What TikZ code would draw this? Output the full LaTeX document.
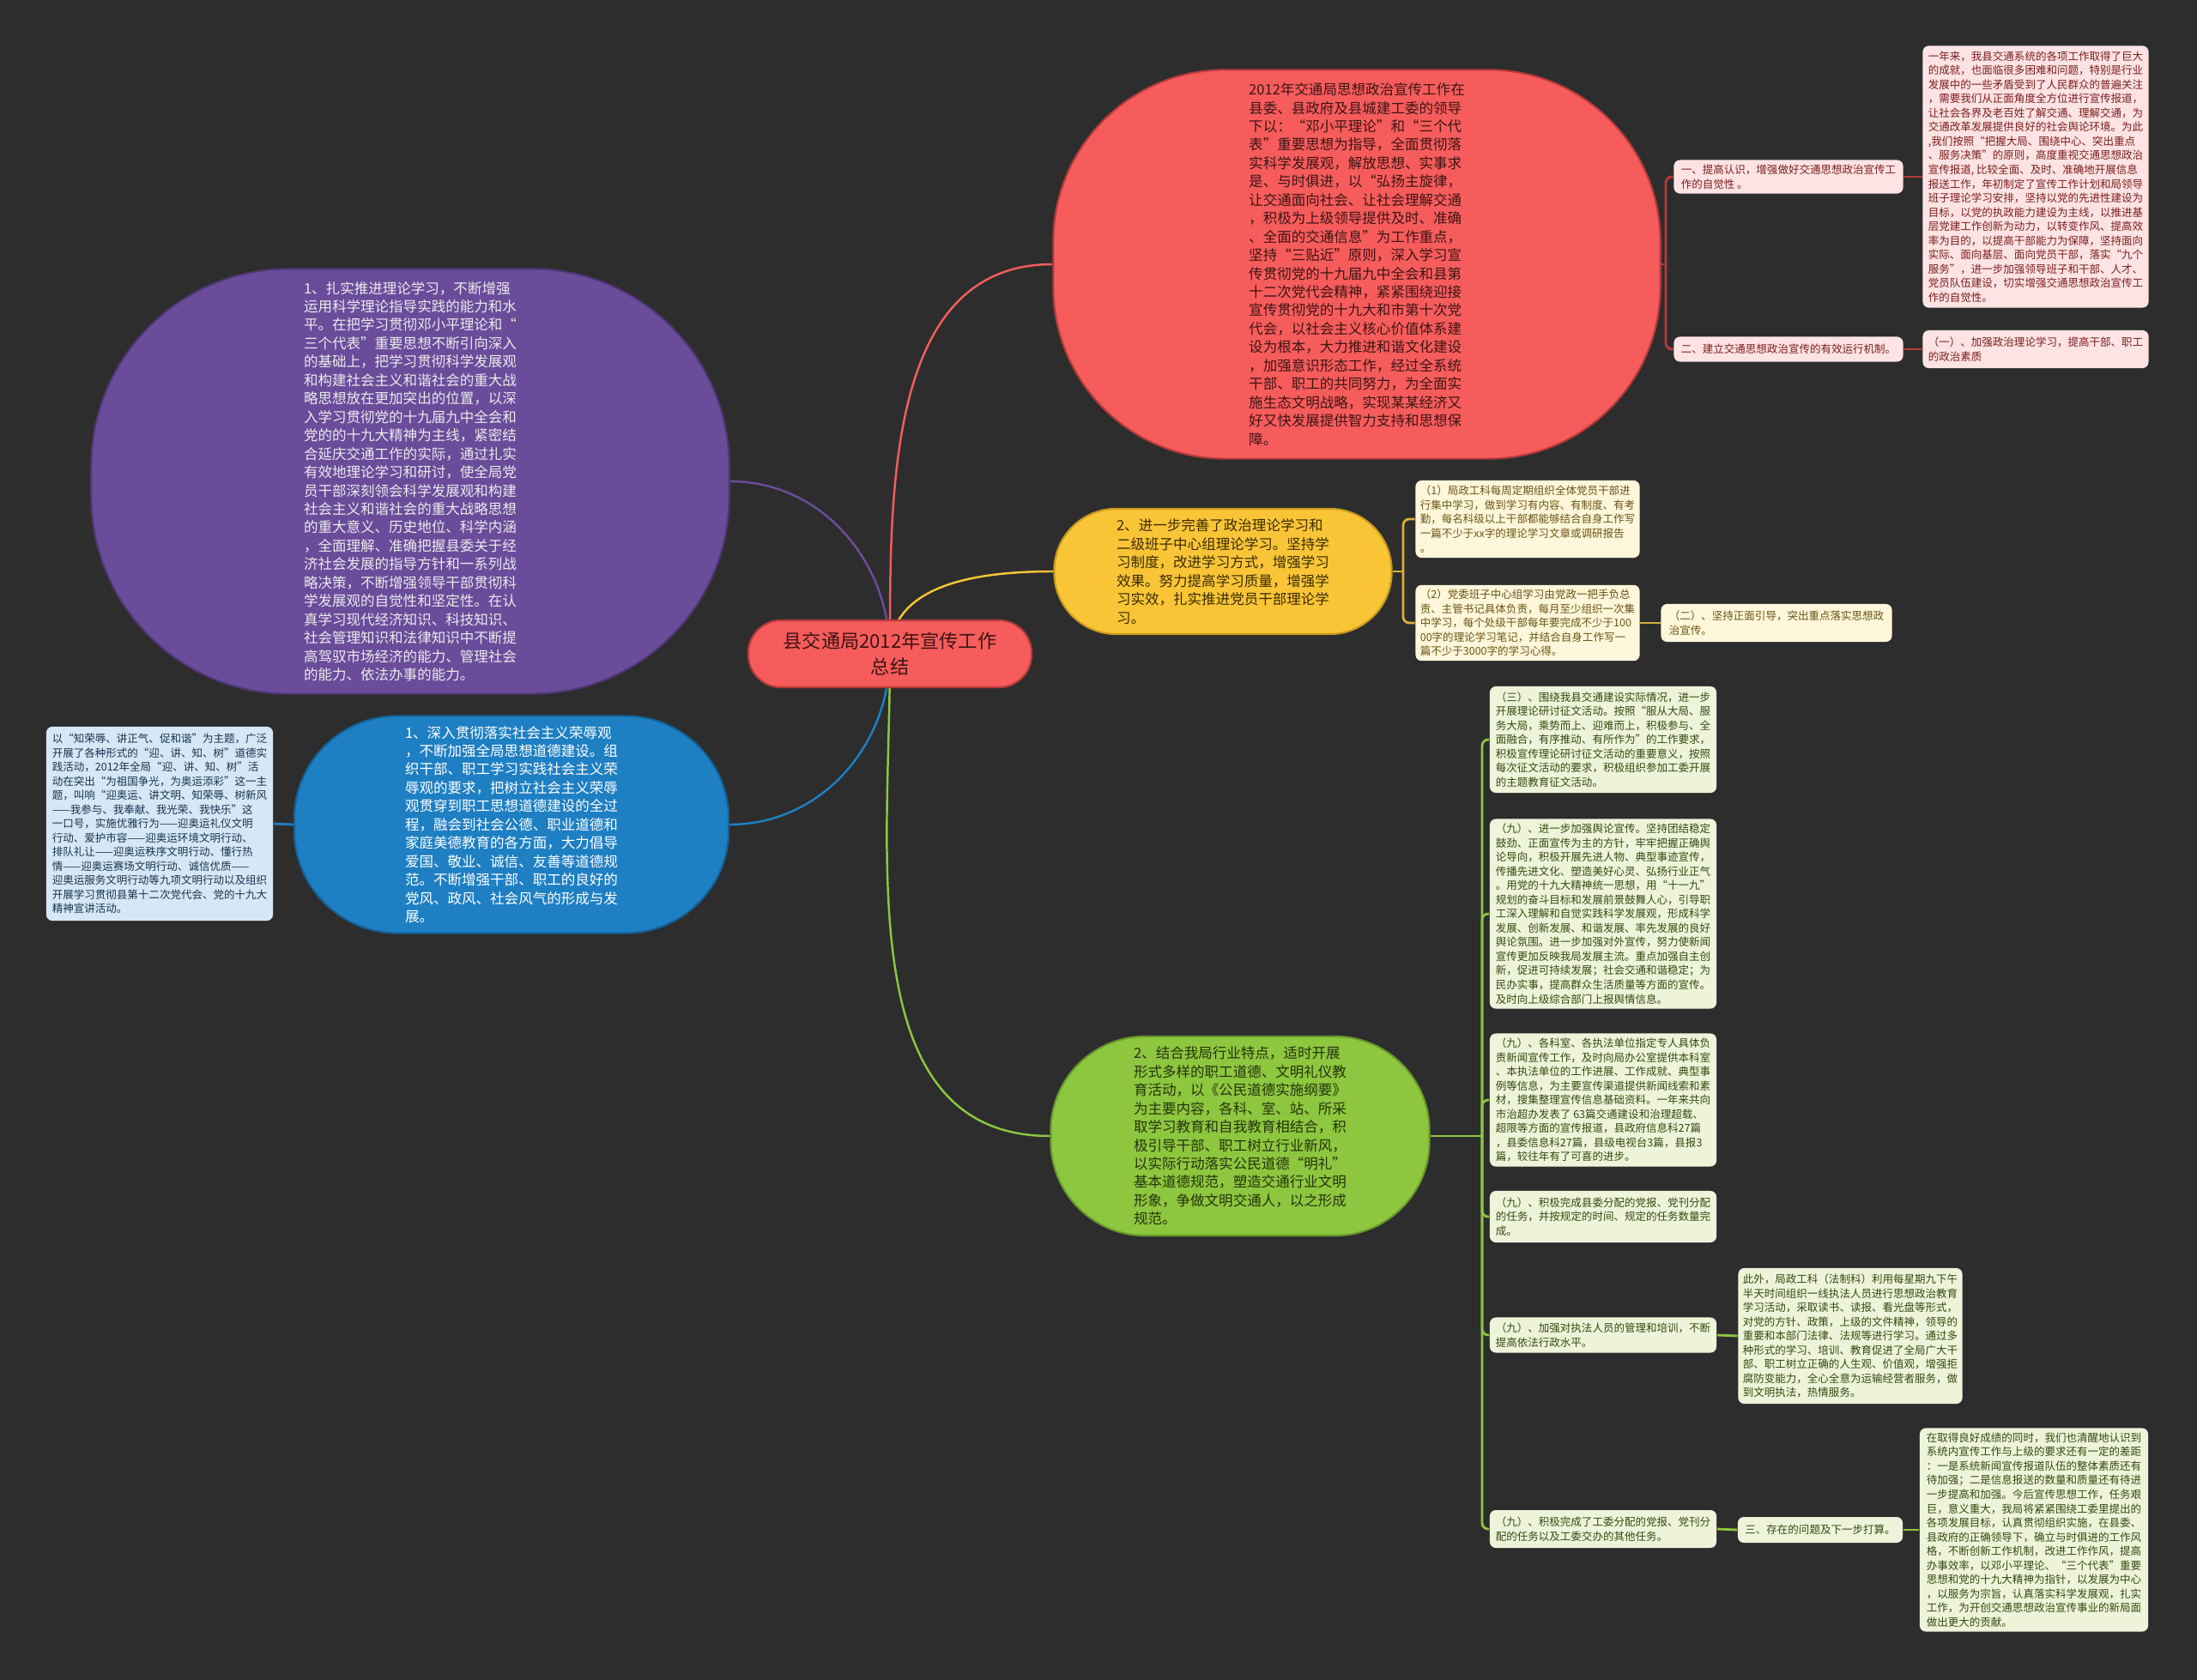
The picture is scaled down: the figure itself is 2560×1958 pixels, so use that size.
\documentclass[tikz,border=0pt]{standalone}
\usepackage{fontspec}
\setmainfont{Noto Sans CJK SC}
\usetikzlibrary{backgrounds}
\definecolor{bgdark}{HTML}{2D2D2D}
\definecolor{cRed}{HTML}{F65C5C}
\definecolor{cRedB}{HTML}{B53A3A}
\definecolor{cPurple}{HTML}{6B4C9B}
\definecolor{cPurpleB}{HTML}{4E3775}
\definecolor{cBlue}{HTML}{1E7FC3}
\definecolor{cBlueB}{HTML}{155F94}
\definecolor{cYellow}{HTML}{F9C536}
\definecolor{cYellowB}{HTML}{C99A1E}
\definecolor{cGreen}{HTML}{8DC63F}
\definecolor{cGreenB}{HTML}{6A9A2A}
\definecolor{fPink}{HTML}{FDE3E3}
\definecolor{fCream}{HTML}{FFF7DB}
\definecolor{fLime}{HTML}{EEF4DA}
\definecolor{fSky}{HTML}{D6E8F5}
\definecolor{lRed}{HTML}{B33A3A}
\definecolor{lGold}{HTML}{D9AE3A}
\definecolor{tDark}{HTML}{3D1414}
\definecolor{tRed}{HTML}{7B1E1E}
\definecolor{tGold}{HTML}{6A5314}
\definecolor{tOlive}{HTML}{36470F}
\definecolor{tNavy}{HTML}{17334F}
\definecolor{tBrown}{HTML}{3A2C05}
\definecolor{tMoss}{HTML}{24330B}
\begin{document}
\begin{tikzpicture}[x=0.01cm, y=-0.01cm,
  topic/.style={font=\fontsize{4.7}{6.1}\selectfont, align=left, inner sep=0pt, draw, line width=0.6pt},
  leaf/.style={font=\fontsize{3.56}{4.7}\selectfont, align=left, inner sep=1.5pt, rounded corners=2pt},
  link/.style={line width=0.7pt},
  sublink/.style={line width=0.8pt, rounded corners=2pt}]
\useasboundingbox (0,0) rectangle (2560,1958);
% Centre
\node[draw=cRedB, fill=cRed, text=tDark, line width=0.6pt, rounded corners=0.38cm,
  minimum width=3.3cm, minimum height=0.78cm, align=center,
  font=\fontsize{6.3}{8.3}\selectfont] (root) at (1037,762) {县交通局2012年宣传工作\\总结};
% Red branch
\node[topic, fill=cRed, draw=cRedB, text=tDark, rounded corners=2cm,
  minimum width=7.07cm, minimum height=4.53cm] (intro) at (1581,308) {2012年交通局思想政治宣传工作在\\
县委、县政府及县城建工委的领导\\
下以：“邓小平理论”和“三个代\\
表”重要思想为指导，全面贯彻落\\
实科学发展观，解放思想、实事求\\
是、与时俱进，以“弘扬主旋律，\\
让交通面向社会、让社会理解交通\\
，积极为上级领导提供及时、准确\\
、全面的交通信息”为工作重点，\\
坚持“三贴近”原则，深入学习宣\\
传贯彻党的十九届九中全会和县第\\
十二次党代会精神，紧紧围绕迎接\\
宣传贯彻党的十九大和市第十次党\\
代会，以社会主义核心价值体系建\\
设为根本，大力推进和谐文化建设\\
，加强意识形态工作，经过全系统\\
干部、职工的共同努力，为全面实\\
施生态文明战略，实现某某经济又\\
好又快发展提供智力支持和思想保\\
障。};
\node[leaf, fill=fPink, text=tRed, minimum width=2.67cm, minimum height=0.39cm] (r1) at (2084,206) {一、提高认识，增强做好交通思想政治宣传工\\
作的自觉性 。};
\node[leaf, fill=fPink, text=tRed, minimum width=2.67cm, minimum height=0.29cm] (r2) at (2084,407) {二、建立交通思想政治宣传的有效运行机制。};
\node[leaf, fill=fPink, text=tRed, minimum width=2.63cm, minimum height=3.05cm] (r1a) at (2372,206) {一年来，我县交通系统的各项工作取得了巨大\\
的成就，也面临很多困难和问题，特别是行业\\
发展中的一些矛盾受到了人民群众的普遍关注\\
，需要我们从正面角度全方位进行宣传报道，\\
让社会各界及老百姓了解交通、理解交通，为\\
交通改革发展提供良好的社会舆论环境。为此\\
,我们按照“把握大局、围绕中心、突出重点\\
、服务决策”的原则，高度重视交通思想政治\\
宣传报道, 比较全面、及时、准确地开展信息\\
报送工作，年初制定了宣传工作计划和局领导\\
班子理论学习安排，坚持以党的先进性建设为\\
目标，以党的执政能力建设为主线，以推进基\\
层党建工作创新为动力，以转变作风、提高效\\
率为目的，以提高干部能力为保障，坚持面向\\
实际、面向基层、面向党员干部，落实“九个\\
服务”，进一步加强领导班子和干部、人才、\\
党员队伍建设，切实增强交通思想政治宣传工\\
作的自觉性。};
\node[leaf, fill=fPink, text=tRed, minimum width=2.63cm, minimum height=0.44cm] (r2a) at (2372,407) {（一）、加强政治理论学习，提高干部、职工\\
的政治素质};
% Purple branch
\node[topic, fill=cPurple, draw=cPurpleB, text=white!92!black, rounded corners=2.3cm,
  minimum width=7.43cm, minimum height=4.95cm] (study) at (478,561) {1、扎实推进理论学习，不断增强\\
运用科学理论指导实践的能力和水\\
平。在把学习贯彻邓小平理论和“\\
三个代表”重要思想不断引向深入\\
的基础上，把学习贯彻科学发展观\\
和构建社会主义和谐社会的重大战\\
略思想放在更加突出的位置，以深\\
入学习贯彻党的十九届九中全会和\\
党的的十九大精神为主线，紧密结\\
合延庆交通工作的实际，通过扎实\\
有效地理论学习和研讨，使全局党\\
员干部深刻领会科学发展观和构建\\
社会主义和谐社会的重大战略思想\\
的重大意义、历史地位、科学内涵\\
，全面理解、准确把握县委关于经\\
济社会发展的指导方针和一系列战\\
略决策，不断增强领导干部贯彻科\\
学发展观的自觉性和坚定性。在认\\
真学习现代经济知识、科技知识、\\
社会管理知识和法律知识中不断提\\
高驾驭市场经济的能力、管理社会\\
的能力、依法办事的能力。};
% Yellow branch
\node[topic, fill=cYellow, draw=cYellowB, text=tBrown, rounded corners=0.72cm,
  minimum width=3.93cm, minimum height=1.46cm] (group) at (1425,666) {2、进一步完善了政治理论学习和\\
二级班子中心组理论学习。坚持学\\
习制度，改进学习方式，增强学习\\
效果。努力提高学习质量，增强学\\
习实效，扎实推进党员干部理论学\\
习。};
\node[leaf, fill=fCream, text=tGold, minimum width=2.61cm, minimum height=0.9cm] (y1) at (1780,605) {（1）局政工科每周定期组织全体党员干部进\\
行集中学习，做到学习有内容、有制度、有考\\
勤，每名科级以上干部都能够结合自身工作写\\
一篇不少于xx字的理论学习文章或调研报告\\
。};
\node[leaf, fill=fCream, text=tGold, minimum width=2.61cm, minimum height=0.87cm] (y2) at (1780,726) {（2）党委班子中心组学习由党政一把手负总\\
责、主管书记具体负责，每月至少组织一次集\\
中学习，每个处级干部每年要完成不少于100\\
00字的理论学习笔记，并结合自身工作写一\\
篇不少于3000字的学习心得。};
\node[leaf, fill=fCream, text=tGold, minimum width=2.69cm, minimum height=0.44cm] (y3) at (2070,726) {（二）、坚持正面引导，突出重点落实思想政\\
治宣传。};
% Blue branch
\node[topic, fill=cBlue, draw=cBlueB, text=white, rounded corners=1.2cm,
  minimum width=5.06cm, minimum height=2.53cm] (moral) at (596,961) {1、深入贯彻落实社会主义荣辱观\\
，不断加强全局思想道德建设。组\\
织干部、职工学习实践社会主义荣\\
辱观的要求，把树立社会主义荣辱\\
观贯穿到职工思想道德建设的全过\\
程，融会到社会公德、职业道德和\\
家庭美德教育的各方面，大力倡导\\
爱国、敬业、诚信、友善等道德规\\
范。不断增强干部、职工的良好的\\
党风、政风、社会风气的形成与发\\
展。};
\node[leaf, fill=fSky, text=tNavy, minimum width=2.64cm, minimum height=2.26cm] (rongru) at (186,960) {以“知荣辱、讲正气、促和谐”为主题，广泛\\
开展了各种形式的“迎、讲、知、树”道德实\\
践活动，2012年全局“迎、讲、知、树”活\\
动在突出“为祖国争光，为奥运添彩”这一主\\
题，叫响“迎奥运、讲文明、知荣辱、树新风\\
——我参与、我奉献、我光荣、我快乐”这\\
一口号，实施优雅行为——迎奥运礼仪文明\\
行动、爱护市容——迎奥运环境文明行动、\\
排队礼让——迎奥运秩序文明行动、懂行热\\
情——迎奥运赛场文明行动、诚信优质——\\
迎奥运服务文明行动等九项文明行动以及组织\\
开展学习贯彻县第十二次党代会、党的十九大\\
精神宣讲活动。};
% Green branch
\node[topic, fill=cGreen, draw=cGreenB, text=tMoss, rounded corners=1.1cm,
  minimum width=4.41cm, minimum height=2.32cm] (etiq) at (1445,1324) {2、结合我局行业特点，适时开展\\
形式多样的职工道德、文明礼仪教\\
育活动，以《公民道德实施纲要》\\
为主要内容，各科、室、站、所采\\
取学习教育和自我教育相结合，积\\
极引导干部、职工树立行业新风，\\
以实际行动落实公民道德“明礼”\\
基本道德规范，塑造交通行业文明\\
形象，争做文明交通人，以之形成\\
规范。};
\node[leaf, fill=fLime, text=tOlive, minimum width=2.64cm, minimum height=1.24cm] (g1) at (1868,862) {（三）、围绕我县交通建设实际情况，进一步\\
开展理论研讨征文活动。按照“服从大局、服\\
务大局，乘势而上、迎难而上，积极参与、全\\
面融合，有序推动、有所作为”的工作要求，\\
积极宣传理论研讨征文活动的重要意义，按照\\
每次征文活动的要求，积极组织参加工委开展\\
的主题教育征文活动。};
\node[leaf, fill=fLime, text=tOlive, minimum width=2.64cm, minimum height=2.21cm] (g2) at (1868,1065) {（九）、进一步加强舆论宣传。坚持团结稳定\\
鼓劲、正面宣传为主的方针，牢牢把握正确舆\\
论导向，积极开展先进人物、典型事迹宣传，\\
传播先进文化、塑造美好心灵、弘扬行业正气\\
。用党的十九大精神统一思想，用“十一九”\\
规划的奋斗目标和发展前景鼓舞人心，引导职\\
工深入理解和自觉实践科学发展观，形成科学\\
发展、创新发展、和谐发展、率先发展的良好\\
舆论氛围。进一步加强对外宣传，努力使新闻\\
宣传更加反映我局发展主流。重点加强自主创\\
新，促进可持续发展；社会交通和谐稳定；为\\
民办实事，提高群众生活质量等方面的宣传。\\
及时向上级综合部门上报舆情信息。};
\node[leaf, fill=fLime, text=tOlive, minimum width=2.64cm, minimum height=1.55cm] (g3) at (1868,1282) {（九）、各科室、各执法单位指定专人具体负\\
责新闻宣传工作，及时向局办公室提供本科室\\
、本执法单位的工作进展、工作成就、典型事\\
例等信息，为主要宣传渠道提供新闻线索和素\\
材，搜集整理宣传信息基础资料。一年来共向\\
市治超办发表了 63篇交通建设和治理超载、\\
超限等方面的宣传报道，县政府信息科27篇\\
，县委信息科27篇，县级电视台3篇，县报3\\
篇，较往年有了可喜的进步。};
\node[leaf, fill=fLime, text=tOlive, minimum width=2.64cm, minimum height=0.6cm] (g4) at (1868,1418) {（九）、积极完成县委分配的党报、党刊分配\\
的任务，并按规定的时间、规定的任务数量完\\
成。};
\node[leaf, fill=fLime, text=tOlive, minimum width=2.64cm, minimum height=0.41cm] (g5) at (1868,1556) {（九）、加强对执法人员的管理和培训，不断\\
提高依法行政水平。};
\node[leaf, fill=fLime, text=tOlive, minimum width=2.61cm, minimum height=1.58cm] (g5a) at (2156,1557) {此外，局政工科（法制科）利用每星期九下午\\
半天时间组织一线执法人员进行思想政治教育\\
学习活动，采取读书、读报、看光盘等形式，\\
对党的方针、政策，上级的文件精神，领导的\\
重要和本部门法律、法规等进行学习。通过多\\
种形式的学习、培训、教育促进了全局广大干\\
部、职工树立正确的人生观、价值观，增强拒\\
腐防变能力，全心全意为运输经营者服务，做\\
到文明执法，热情服务。};
\node[leaf, fill=fLime, text=tOlive, minimum width=2.64cm, minimum height=0.44cm] (g6) at (1868,1782) {（九）、积极完成了工委分配的党报、党刊分\\
配的任务以及工委交办的其他任务。};
\node[leaf, fill=fLime, text=tOlive, minimum width=1.92cm, minimum height=0.3cm] (g6a) at (2121,1783) {三、存在的问题及下一步打算。};
\node[leaf, fill=fLime, text=tOlive, minimum width=2.66cm, minimum height=2.37cm] (g6b) at (2370,1783) {在取得良好成绩的同时，我们也清醒地认识到\\
系统内宣传工作与上级的要求还有一定的差距\\
：一是系统新闻宣传报道队伍的整体素质还有\\
待加强；二是信息报送的数量和质量还有待进\\
一步提高和加强。今后宣传思想工作，任务艰\\
巨，意义重大，我局将紧紧围绕工委里提出的\\
各项发展目标，认真贯彻组织实施，在县委、\\
县政府的正确领导下，确立与时俱进的工作风\\
格，不断创新工作机制，改进工作作风，提高\\
办事效率，以邓小平理论、“三个代表”重要\\
思想和党的十九大精神为指针，以发展为中心\\
，以服务为宗旨，认真落实科学发展观，扎实\\
工作，为开创交通思想政治宣传事业的新局面\\
做出更大的贡献。};
% Connectors
\coordinate (rj) at (1941,308);
\coordinate (yj) at (1635,666);
\coordinate (gj) at (1727,1324);
\begin{pgfonlayer}{background}
\fill[bgdark] (0,0) rectangle (2560,1958);
\draw[link, cRed] (root.center) to[out=90, in=180] (intro.west);
\draw[link, cPurple] (root.center) to[out=90, in=0] (study.east);
\draw[link, cYellow] (root.center) to[out=90, in=180] (group.west);
\draw[link, cBlue] (root.center) to[out=-90, in=0] (moral.east);
\draw[link, cGreen] (root.center) to[out=-90, in=180] (etiq.west);
\draw[sublink, lRed] (intro.east) -- (rj);
\draw[sublink, lRed] (rj) |- (r1.west);
\draw[sublink, lRed] (rj) |- (r2.west);
\draw[sublink, lRed] (r1.east) -- (r1a.west);
\draw[sublink, lRed] (r2.east) -- (r2a.west);
\draw[sublink, lGold] (group.east) -- (yj);
\draw[sublink, lGold] (yj) |- (y1.west);
\draw[sublink, lGold] (yj) |- (y2.west);
\draw[sublink, lGold] (y2.east) -- (y3.west);
\draw[sublink, cBlue] (moral.west) -- (rongru.east);
\draw[sublink, cGreen] (etiq.east) -- (gj);
\foreach \g in {g1,g2,g3,g4,g5,g6}
  \draw[sublink, cGreen] (gj) |- (\g.west);
\draw[sublink, cGreen] (g5.east) -- (g5a.west);
\draw[sublink, cGreen] (g6.east) -- (g6a.west);
\draw[sublink, cGreen] (g6a.east) -- (g6b.west);
\end{pgfonlayer}
\end{tikzpicture}
\end{document}
